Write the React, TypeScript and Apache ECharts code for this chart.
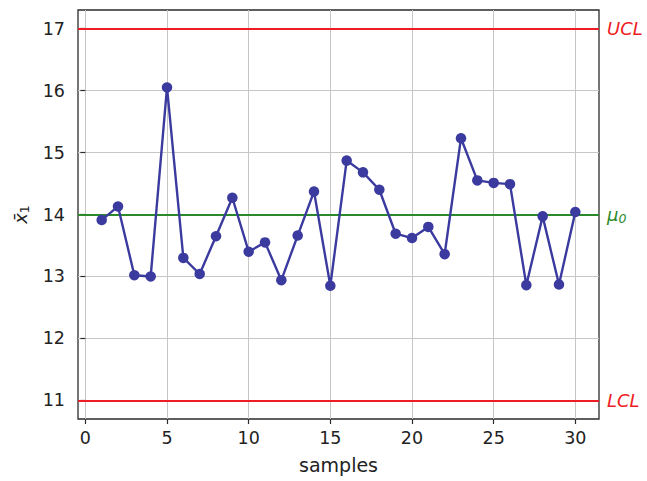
import React, { useEffect, useRef } from 'react';
import * as echarts from 'echarts';

const samples = [1, 2, 3, 4, 5, 6, 7, 8, 9, 10, 11, 12, 13, 14, 15, 16, 17, 18, 19, 20, 21, 22, 23, 24, 25, 26, 27, 28, 29, 30];
const xbarValues = [13.91, 14.13, 13.02, 13.0, 16.05, 13.3, 13.04, 13.65, 14.27, 13.4, 13.55, 12.94, 13.66, 14.37, 12.85, 14.87, 14.68, 14.4, 13.69, 13.62, 13.8, 13.36, 15.23, 14.55, 14.51, 14.49, 12.86, 13.97, 12.87, 14.04];
const ucl = 17;
const mu0 = 14;
const lcl = 11;
const xTicks = [0, 5, 10, 15, 20, 25, 30];
const yTicks = [11, 12, 13, 14, 15, 16, 17];

const FONT = 'DejaVu Sans';
const RED = '#ee1d25';
const GREEN = '#2a8a2a';
const BLUE = '#3b3a9f';

export default function App() {
  const ref = useRef<HTMLDivElement>(null);
  useEffect(() => {
    const chart = echarts.init(ref.current!, null, { renderer: 'svg' });
    chart.setOption({
      animation: false,
      backgroundColor: '#ffffff',
      textStyle: { fontFamily: FONT },
      grid: {
        left: 78,
        top: 10,
        width: 521,
        height: 409,
        show: true,
        borderColor: '#2b2b2b',
        borderWidth: 1.3,
        backgroundColor: 'transparent',
      },
      xAxis: {
        type: 'value',
        min: -0.45,
        max: 31.45,
        axisLine: { show: false },
        axisTick: { show: true, length: 5, lineStyle: { color: '#2b2b2b', width: 1.2 }, customValues: xTicks },
        axisLabel: { customValues: xTicks, fontSize: 17.5, color: '#222', margin: 10, fontFamily: FONT },
        splitLine: { show: true, lineStyle: { color: '#c6c6c6', width: 1 } },
        name: 'samples',
        nameLocation: 'middle',
        nameGap: 36,
        nameTextStyle: { fontSize: 19, color: '#222', fontFamily: FONT },
      },
      yAxis: {
        type: 'value',
        min: 10.7,
        max: 17.3,
        axisLine: { show: false },
        axisTick: { show: true, length: 5, lineStyle: { color: '#2b2b2b', width: 1.2 }, customValues: yTicks },
        axisLabel: { customValues: yTicks, fontSize: 17.5, color: '#222', margin: 13, fontFamily: FONT },
        splitLine: { show: true, lineStyle: { color: '#c6c6c6', width: 1 } },
        name: '{x|x\u0304}{s|1}',
        nameLocation: 'middle',
        nameRotate: 90,
        nameGap: 47,
        nameTextStyle: {
          rich: {
            x: { fontSize: 18, fontStyle: 'italic', color: '#222', fontFamily: FONT },
            s: { fontSize: 12.5, color: '#222', fontFamily: FONT, padding: [8, 0, 0, 0] },
          },
        },
      },
      series: [
        {
          type: 'line',
          data: samples.map((s, i) => [s, xbarValues[i]]),
          symbol: 'circle',
          symbolSize: 10.5,
          z: 5,
          lineStyle: { color: BLUE, width: 2.4 },
          itemStyle: { color: BLUE },
          markLine: {
            silent: true,
            symbol: 'none',
            z: 3,
            label: { position: 'end', distance: 8, fontSize: 18, fontStyle: 'italic', fontFamily: FONT },
            data: [
              { yAxis: ucl, lineStyle: { color: RED, width: 2, type: 'solid' }, label: { formatter: 'UCL', color: RED } },
              {
                yAxis: mu0,
                lineStyle: { color: GREEN, width: 2, type: 'solid' },
                label: {
                  formatter: '{m|\u03bc}{s|0}',
                  color: GREEN,
                  rich: {
                    m: { fontSize: 18, fontStyle: 'italic', color: GREEN, fontFamily: FONT },
                    s: { fontSize: 12.5, color: GREEN, fontFamily: FONT, padding: [8, 0, 0, 0] },
                  },
                },
              },
              { yAxis: lcl, lineStyle: { color: RED, width: 2, type: 'solid' }, label: { formatter: 'LCL', color: RED } },
            ],
          },
        },
      ],
    });
    return () => chart.dispose();
  }, []);
  return <div ref={ref} style={{ position: 'fixed', left: 0, top: 0, width: 647, height: 481 }} />;
}
